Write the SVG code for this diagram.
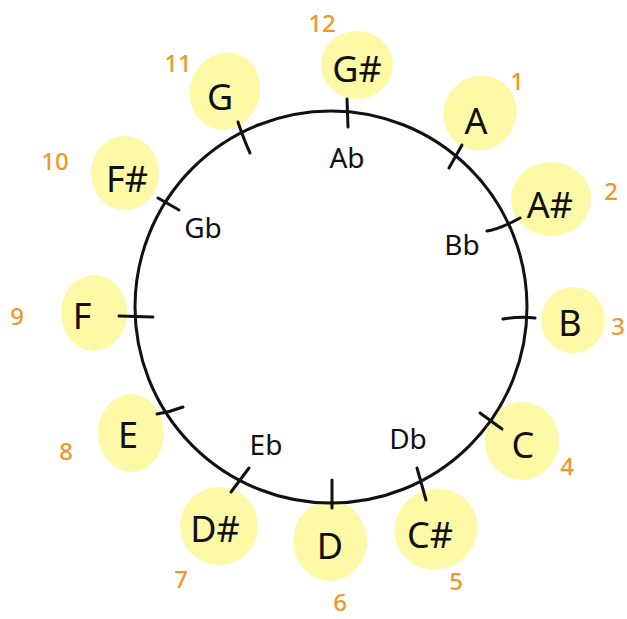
<svg xmlns="http://www.w3.org/2000/svg" width="627" height="619" viewBox="0 0 627 619">
<style>
.blob{fill:#fdf9a6;}
.note{font-family:"Noto Sans",sans-serif;font-size:36px;fill:#111;text-anchor:middle;dominant-baseline:central;}
.flat{font-family:"Noto Sans",sans-serif;font-size:28px;fill:#111;text-anchor:middle;dominant-baseline:central;}
.num{font-family:"Noto Sans",sans-serif;font-size:24px;font-weight:500;fill:#f0962a;text-anchor:middle;dominant-baseline:central;}
.tick{stroke:#111;stroke-width:3;stroke-linecap:round;fill:none;}
</style>
<rect width="627" height="619" fill="#ffffff"/>
<g id="nodes">
<g id="n-Gs"><ellipse class="blob" cx="357" cy="65" rx="36" ry="34"/><text class="note" x="357" y="68">G#</text><text class="num" x="322" y="22">12</text></g>
<g id="n-A"><ellipse class="blob" cx="480" cy="113" rx="36" ry="38" transform="rotate(30 480 113)"/><text class="note" x="476" y="120">A</text><text class="num" x="517" y="80">1</text></g>
<g id="n-As"><ellipse class="blob" cx="551" cy="199" rx="40" ry="37"/><text class="note" x="550" y="204">A#</text><text class="num" x="611" y="190">2</text></g>
<g id="n-B"><ellipse class="blob" cx="573" cy="320" rx="32" ry="33"/><text class="note" x="570" y="322">B</text><text class="num" x="618" y="325">3</text></g>
<g id="n-C"><ellipse class="blob" cx="522" cy="441" rx="37" ry="39"/><text class="note" x="523" y="444">C</text><text class="num" x="567" y="465">4</text></g>
<g id="n-Cs"><ellipse class="blob" cx="436" cy="529" rx="42" ry="40" transform="rotate(-30 436 529)"/><text class="note" x="430" y="534">C#</text><text class="num" x="456" y="580">5</text></g>
<g id="n-D"><ellipse class="blob" cx="330" cy="541" rx="37" ry="40"/><text class="note" x="330" y="545">D</text><text class="num" x="340" y="601">6</text></g>
<g id="n-Ds"><ellipse class="blob" cx="219" cy="526" rx="39" ry="39"/><text class="note" x="215" y="528">D#</text><text class="num" x="181" y="578">7</text></g>
<g id="n-E"><ellipse class="blob" cx="131" cy="433" rx="33" ry="39"/><text class="note" x="128" y="434">E</text><text class="num" x="66" y="450">8</text></g>
<g id="n-F"><ellipse class="blob" cx="94" cy="313" rx="33" ry="38"/><text class="note" x="82" y="315">F</text><text class="num" x="17" y="315">9</text></g>
<g id="n-Fs"><ellipse class="blob" cx="125" cy="173" rx="34" ry="37"/><text class="note" x="127" y="178">F#</text><text class="num" x="55" y="160">10</text></g>
<g id="n-G"><ellipse class="blob" cx="225" cy="91" rx="35" ry="39" transform="rotate(20 225 91)"/><text class="note" x="220" y="96">G</text><text class="num" x="178" y="62">11</text></g>
<text class="flat" x="347" y="157">Ab</text>
<text class="flat" x="462" y="244">Bb</text>
<text class="flat" x="203" y="227">Gb</text>
<text class="flat" x="266" y="444">Eb</text>
<text class="flat" x="408" y="438">Db</text>
</g>
<g id="connectors">
<circle cx="331" cy="307" r="196" fill="none" stroke="#111" stroke-width="3"/>
<path class="tick" d="M347 99 L348 127"/>
<path class="tick" d="M462 145 L449 168"/>
<path class="tick" d="M487 231 Q500 229 520 218"/>
<path class="tick" d="M503 319 Q520 316 535 318"/>
<path class="tick" d="M480 413 L502 429"/>
<path class="tick" d="M417 468 L426 500"/>
<path class="tick" d="M332 480 L332 508"/>
<path class="tick" d="M249 468 L231 492"/>
<path class="tick" d="M157 414 Q170 412 183 407"/>
<path class="tick" d="M119 316 L153 317"/>
<path class="tick" d="M158 198 L179 210"/>
<path class="tick" d="M238 122 Q244 140 250 153"/>
</g>
</svg>
